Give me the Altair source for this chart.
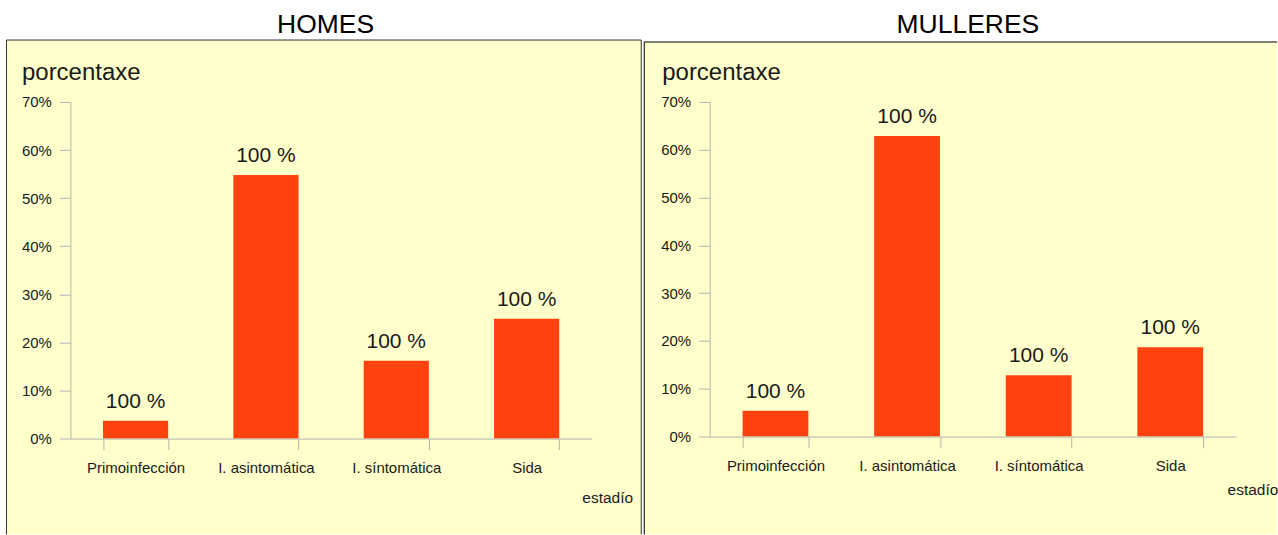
import altair as alt
import pandas as pd

# ---- data ----
categories = ["Primoinfección", "I. asintomática", "I. síntomática", "Sida"]
homes = [0.037, 0.548, 0.162, 0.249]
mulleres = [0.054, 0.629, 0.128, 0.187]
bar_labels = ["100 %", "100 %", "100 %", "100 %"]
y_ticks = [0.0, 0.1, 0.2, 0.3, 0.4, 0.5, 0.6, 0.7]
panel_titles = ["HOMES", "MULLERES"]

BG = "#FFFFCC"
BAR = "#FF420E"
AXIS = "#B3B3B3"
TXT = "#1A1A1A"
FONT = "Liberation Sans"


def panel(values, title, W, H, box_left, box_top, box_right, box_bottom,
          title_x, ytitle_x, est_x, est_y, border_color, right_border=True):
    df = pd.DataFrame({"estadio": categories, "valor": values, "etiqueta": bar_labels})
    one = alt.Chart(pd.DataFrame({"t": [title]}))

    bg = one.mark_rect(fill=BG, strokeWidth=0).encode(
        x=alt.value(box_left), x2=alt.value(box_right),
        y=alt.value(box_top), y2=alt.value(box_bottom))
    top_line = one.mark_rule(color=border_color, strokeWidth=1).encode(
        x=alt.value(box_left), x2=alt.value(box_right), y=alt.value(box_top))
    left_line = one.mark_rule(color=border_color, strokeWidth=1).encode(
        x=alt.value(box_left), y=alt.value(box_top), y2=alt.value(box_bottom))
    layers = [bg, top_line, left_line]
    if right_border:
        right_line = one.mark_rule(color=border_color, strokeWidth=1).encode(
            x=alt.value(box_right), y=alt.value(box_top), y2=alt.value(box_bottom))
        layers.append(right_line)

    ttl = one.mark_text(fontSize=26.5, font=FONT, color="#000000",
                        align="center", baseline="middle").encode(
        text="t:N", x=alt.value(title_x), y=alt.value(-77))
    layers.append(ttl)

    x_enc = alt.X("estadio:N", sort=categories,
                  scale=alt.Scale(paddingInner=0.5, paddingOuter=0.25),
                  axis=alt.Axis(title="estadío", tickBand="extent", labelAngle=0,
                                labelFontSize=15, labelColor=TXT, labelFont=FONT,
                                labelPadding=11, tickSize=11, tickColor=AXIS,
                                domainColor=AXIS, titleX=est_x, titleY=est_y,
                                titleAlign="left", titleBaseline="middle",
                                titleFontSize=15.5, titleFontWeight="normal",
                                titleColor=TXT, titleFont=FONT, zindex=1))
    y_enc = alt.Y("valor:Q",
                  scale=alt.Scale(domain=[0, 0.7], nice=False),
                  axis=alt.Axis(values=y_ticks, format=".0%", grid=False,
                                title="porcentaxe", titleAngle=0, titleX=ytitle_x, titleY=-29,
                                titleAlign="left", titleBaseline="middle",
                                titleFontSize=24, titleFontWeight="normal",
                                titleColor=TXT, titleFont=FONT,
                                labelFontSize=15, labelColor=TXT, labelFont=FONT,
                                labelPadding=8, tickSize=11, tickColor=AXIS,
                                domainColor=AXIS, zindex=1))

    bars = alt.Chart(df).mark_bar(color=BAR).encode(x=x_enc, y=y_enc)
    labels = alt.Chart(df).mark_text(fontSize=21, font=FONT, color=TXT,
                                     baseline="middle", dy=-19).encode(
        x=alt.X("estadio:N", sort=categories), y="valor:Q", text="etiqueta:N")
    layers += [bars, labels]
    return alt.layer(*layers).properties(width=W, height=H)


left = panel(homes, panel_titles[0], 522, 337, -64, -62, 571.5, 433, 255.5, -49, 512, 59,
             "#333333")
right = panel(mulleres, panel_titles[1], 527, 335, -65.5, -60, 568, 433, 258.5, -48, 518, 53,
              "#000000", right_border=False)

chart = alt.hconcat(left, right, spacing=2).resolve_scale(x="independent", y="independent") \
    .configure(padding={"left": 5.5, "top": 11.75, "right": 0, "bottom": 0}, font=FONT) \
    .configure_view(stroke=None) \
    .configure_axis(labelFont=FONT, titleFont=FONT)

chart.save("out.html", embed_options={"renderer": "svg", "actions": False})
